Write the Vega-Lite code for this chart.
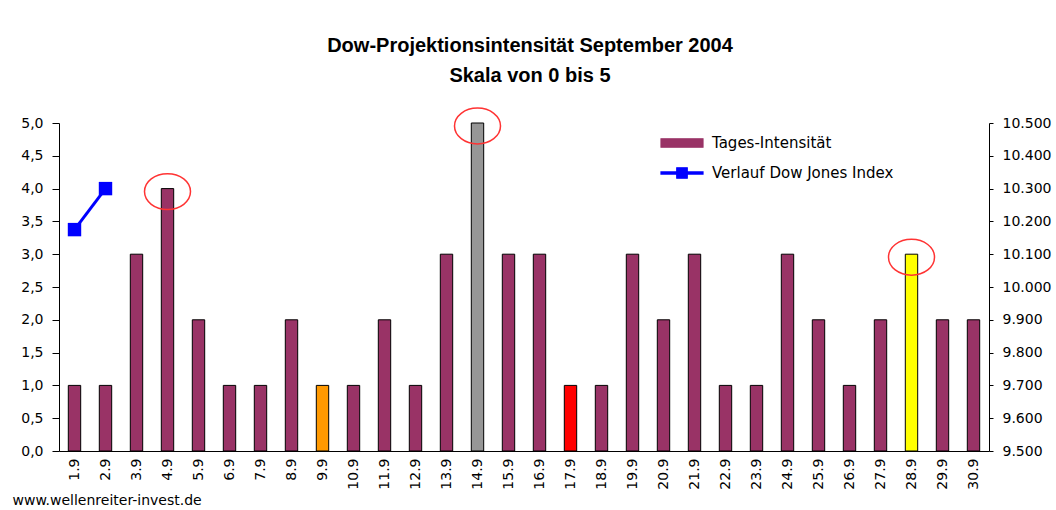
{
  "$schema": "https://vega.github.io/schema/vega-lite/v6.json",
  "width": 930,
  "height": 328,
  "autosize": {"type": "none"},
  "padding": {"left": 59, "top": 123, "right": 67, "bottom": 59},
  "background": "white",
  "title": {
    "text": ["Dow-Projektionsintensität September 2004", "Skala von 0 bis 5"],
    "font": "Liberation Sans",
    "fontSize": 20,
    "fontWeight": "bold",
    "color": "black",
    "lineHeight": 30,
    "anchor": "middle",
    "frame": "group",
    "offset": 19,
    "dx": 6
  },
  "datasets": {
    "intensitaet": [
      {"tag": "1.9", "wert": 1, "typ": "normal"},
      {"tag": "2.9", "wert": 1, "typ": "normal"},
      {"tag": "3.9", "wert": 3, "typ": "normal"},
      {"tag": "4.9", "wert": 4, "typ": "normal"},
      {"tag": "5.9", "wert": 2, "typ": "normal"},
      {"tag": "6.9", "wert": 1, "typ": "normal"},
      {"tag": "7.9", "wert": 1, "typ": "normal"},
      {"tag": "8.9", "wert": 2, "typ": "normal"},
      {"tag": "9.9", "wert": 1, "typ": "orange"},
      {"tag": "10.9", "wert": 1, "typ": "normal"},
      {"tag": "11.9", "wert": 2, "typ": "normal"},
      {"tag": "12.9", "wert": 1, "typ": "normal"},
      {"tag": "13.9", "wert": 3, "typ": "normal"},
      {"tag": "14.9", "wert": 5, "typ": "grau"},
      {"tag": "15.9", "wert": 3, "typ": "normal"},
      {"tag": "16.9", "wert": 3, "typ": "normal"},
      {"tag": "17.9", "wert": 1, "typ": "rot"},
      {"tag": "18.9", "wert": 1, "typ": "normal"},
      {"tag": "19.9", "wert": 3, "typ": "normal"},
      {"tag": "20.9", "wert": 2, "typ": "normal"},
      {"tag": "21.9", "wert": 3, "typ": "normal"},
      {"tag": "22.9", "wert": 1, "typ": "normal"},
      {"tag": "23.9", "wert": 1, "typ": "normal"},
      {"tag": "24.9", "wert": 3, "typ": "normal"},
      {"tag": "25.9", "wert": 2, "typ": "normal"},
      {"tag": "26.9", "wert": 1, "typ": "normal"},
      {"tag": "27.9", "wert": 2, "typ": "normal"},
      {"tag": "28.9", "wert": 3, "typ": "gelb"},
      {"tag": "29.9", "wert": 2, "typ": "normal"},
      {"tag": "30.9", "wert": 2, "typ": "normal"}
    ],
    "markierungen": [
      {"tag": "4.9", "wert": 4},
      {"tag": "14.9", "wert": 5},
      {"tag": "28.9", "wert": 3}
    ],
    "dow": [
      {"tag": "1.9", "index": 10175, "serie": "Verlauf Dow Jones Index"},
      {"tag": "2.9", "index": 10300, "serie": "Verlauf Dow Jones Index"}
    ]
  },
  "layer": [
    {
      "layer": [
        {
          "data": {"name": "intensitaet"},
          "mark": {"type": "bar", "stroke": "black", "strokeWidth": 1},
          "encoding": {
            "x": {
              "field": "tag",
              "type": "nominal",
              "sort": null,
              "scale": {"paddingInner": 0.6, "paddingOuter": 0.3},
              "axis": {
                "title": "www.wellenreiter-invest.de",
                "titleAnchor": "start",
                "titleAlign": "left",
                "titleX": -47,
                "titleY": 53,
                "titleBaseline": "alphabetic",
                "titleFont": "DejaVu Sans",
                "titleFontSize": 14,
                "titleFontWeight": "normal",
                "titleColor": "black",
                "labelAngle": 270,
                "labelFont": "DejaVu Sans",
                "labelFontSize": 14,
                "labelColor": "black",
                "labelPadding": 7,
                "labelOverlap": false,
                "ticks": false,
                "domainColor": "black",
                "domainWidth": 1
              }
            },
            "y": {
              "field": "wert",
              "type": "quantitative",
              "scale": {"domain": [0, 5]},
              "axis": {
                "title": null,
                "values": [0, 0.5, 1, 1.5, 2, 2.5, 3, 3.5, 4, 4.5, 5],
                "labelExpr": "replace(format(datum.value, '.1f'), '.', ',')",
                "labelOverlap": false,
                "tickSize": 7,
                "labelPadding": 9,
                "grid": false,
                "domainColor": "black",
                "tickColor": "black",
                "labelFont": "DejaVu Sans",
                "labelFontSize": 14,
                "labelColor": "black"
              }
            },
            "fill": {
              "field": "typ",
              "type": "nominal",
              "scale": {
                "domain": ["normal", "orange", "grau", "rot", "gelb"],
                "range": ["#993366", "#FF9900", "#969696", "#FF0000", "#FFFF00"]
              },
              "legend": null
            }
          }
        },
        {
          "data": {"name": "markierungen"},
          "mark": {
            "type": "point",
            "shape": "M-1,0A1,0.78 0 1,0 1,0A1,0.78 0 1,0 -1,0Z",
            "size": 2116,
            "filled": false,
            "stroke": "#FF3333",
            "strokeWidth": 1.5,
            "opacity": 1,
            "yOffset": 3
          },
          "encoding": {
            "x": {"field": "tag", "type": "nominal", "sort": null},
            "y": {
              "field": "wert",
              "type": "quantitative",
              "axis": {
                "title": null,
                "values": [0, 0.5, 1, 1.5, 2, 2.5, 3, 3.5, 4, 4.5, 5],
                "labelExpr": "replace(format(datum.value, '.1f'), '.', ',')",
                "labelOverlap": false,
                "tickSize": 7,
                "labelPadding": 9,
                "grid": false,
                "domainColor": "black",
                "tickColor": "black",
                "labelFont": "DejaVu Sans",
                "labelFontSize": 14,
                "labelColor": "black"
              }
            }
          }
        }
      ]
    },
    {
      "data": {"name": "dow"},
      "mark": {
        "type": "line",
        "strokeWidth": 3,
        "point": {"shape": "square", "size": 180, "filled": true}
      },
      "encoding": {
        "x": {"field": "tag", "type": "nominal", "sort": null},
        "y": {
          "field": "index",
          "type": "quantitative",
          "scale": {"domain": [9500, 10500]},
          "axis": {
            "orient": "right",
            "title": null,
            "values": [9500, 9600, 9700, 9800, 9900, 10000, 10100, 10200, 10300, 10400, 10500],
            "labelExpr": "replace(format(datum.value, ','), ',', '.')",
            "labelOverlap": false,
            "tickSize": 4,
            "labelPadding": 9,
            "grid": false,
            "domainColor": "black",
            "tickColor": "black",
            "labelFont": "DejaVu Sans",
            "labelFontSize": 14,
            "labelColor": "black"
          }
        },
        "color": {
          "field": "serie",
          "type": "nominal",
          "scale": {
            "domain": ["Tages-Intensität", "Verlauf Dow Jones Index"],
            "range": ["#993366", "#0000FF"]
          },
          "legend": {
            "title": null,
            "orient": "none",
            "legendX": 601,
            "legendY": -2,
            "padding": 0,
            "rowPadding": 0,
            "symbolSize": 1764,
            "symbolStrokeWidth": 1.2,
            "labelFont": "DejaVu Sans",
            "labelFontSize": 15,
            "labelColor": "black",
            "labelOffset": 8,
            "labelLimit": 400,
            "encode": {
              "symbols": {
                "update": {
                  "size": {"value": 1764},
                  "strokeWidth": {"value": 1.2},
                  "shape": {"signal": "datum.value === 'Tages-Intensität' ? 'M-1,-0.2H1V0.2H-1Z' : 'M-1,-0.05H1V0.05H-1Z M-0.25,-0.25H0.25V0.25H-0.25Z'"},
                  "fill": {"signal": "datum.value === 'Tages-Intensität' ? '#993366' : '#0000FF'"},
                  "stroke": {"signal": "datum.value === 'Tages-Intensität' ? '#000000' : '#0000FF'"},
                  "opacity": {"value": 1},
                  "fillOpacity": {"value": 1}
                }
              }
            }
          }
        }
      }
    }
  ],
  "resolve": {"scale": {"y": "independent"}},
  "config": {"view": {"stroke": null}, "axis": {"labelOverlap": false}}
}
